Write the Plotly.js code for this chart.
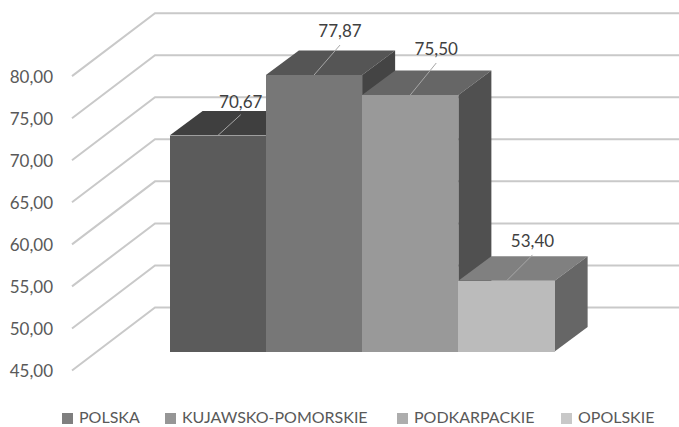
<!DOCTYPE html>
<html><head><meta charset="utf-8">
<script src="https://cdn.plot.ly/plotly-3.0.1.min.js"></script>
<style>html,body{margin:0;padding:0;background:#fff}</style></head>
<body><div id="chart" style="width:679px;height:427px"></div>
<script>
// data
const categories = ["POLSKA","KUJAWSKO-POMORSKIE","PODKARPACKIE","OPOLSKIE"];
const values = [70.67,77.87,75.50,53.40];
const labels = ["70,67","77,87","75,50","53,40"];
const axisTicks = [45,50,55,60,65,70,75,80];
// styles
const frontColors = ["#5b5b5b","#777777","#999999","#bbbbbb"];
const topColors = ["#3f3f3f","#555555","#666666","#808080"];
const sideColors = ["#383838","#444444","#505050","#666666"];
const legendColors = ["#7f7f7f","#969696","#adadad","#c8c8c8"];
const legendTextX = [78,181,413,577];
const legendMarkX = [62,165,397,561];
const W=679,H=427,L=58;
const xUnit=96.25, x0=217.75, yUnit=8.41, y45=370.5;
const xr=[(L-x0)/xUnit,(W-x0)/xUnit];
const yr=[45-(H-y45)/yUnit,45+y45/yUnit];
// projection (axis-unit offsets)
const barLift=19/yUnit, depthX=33/xUnit, depthY=24.6/yUnit;
const wallX=83/xUnit, wallY=63/yUnit, frontAxisX=(72-x0)/xUnit;
const base=45+barLift;
const leaderDX=[23,26,26,26].map(d=>d/xUnit), leaderDY=[21,30,32,26].map(d=>d/yUnit);
const labelDY=[11,12,12,12].map(d=>d/yUnit);

const traces=[];
// walls/grid
const gx=[],gy=[];
axisTicks.forEach(t=>{gx.push(frontAxisX,frontAxisX+wallX,xr[1]+1,null);gy.push(t,t+wallY,t+wallY,null);});
traces.push({type:"scatter",mode:"lines",x:gx,y:gy,line:{color:"#c9c9c9",width:2},hoverinfo:"skip",showlegend:false,cliponaxis:true});
// depth faces, painted left to right
values.forEach((v,i)=>{
  const yt=v+barLift, l=i-.5, r=i+.5;
  traces.push({type:"scatter",mode:"lines",fill:"toself",fillcolor:topColors[i],line:{width:0,color:topColors[i]},
    x:[l,r,r+depthX,l+depthX,l],y:[yt,yt,yt+depthY,yt+depthY,yt],hoverinfo:"skip",showlegend:false});
  traces.push({type:"scatter",mode:"lines",fill:"toself",fillcolor:sideColors[i],line:{width:0,color:sideColors[i]},
    x:[r,r+depthX,r+depthX,r,r],y:[yt,yt+depthY,base+depthY,base,yt],hoverinfo:"skip",showlegend:false});
});
// leader lines + labels
values.forEach((v,i)=>{
  traces.push({type:"scatter",mode:"lines",x:[i,i+leaderDX[i]],y:[v+barLift,v+barLift+leaderDY[i]],
    line:{color:"#a6a6a6",width:1},hoverinfo:"skip",showlegend:false});
});
traces.push({type:"scatter",mode:"text",x:values.map((v,i)=>i+leaderDX[i]),
  y:values.map((v,i)=>v+barLift+leaderDY[i]+labelDY[i]),text:labels,textposition:"middle center",
  textfont:{family:"Lato",size:17,color:"#404040"},hoverinfo:"skip",showlegend:false});
// front faces
traces.push({type:"bar",x:[0,1,2,3],y:values.map(v=>v-45),base:base,width:1,xaxis:"x2",yaxis:"y2",
  marker:{color:frontColors,line:{width:0}},text:categories,textposition:"none",hoverinfo:"text",showlegend:false});

const px=x=>(x-L)/(W-L), py=y=>1-y/H;
const shapes=legendMarkX.map((x,i)=>({type:"rect",xref:"paper",yref:"paper",x0:px(x),x1:px(x+11),y0:py(424),y1:py(413),
  fillcolor:legendColors[i],line:{width:0}}));
const annotations=categories.map((c,i)=>({xref:"paper",yref:"paper",x:px(legendTextX[i]),y:py(416.5),xanchor:"left",yanchor:"middle",
  text:c,showarrow:false,font:{family:"Lato",size:16,color:"#595959"},borderpad:0}));

const layout={width:W,height:H,margin:{l:L,r:0,t:0,b:0},paper_bgcolor:"#fff",plot_bgcolor:"#fff",showlegend:false,
  separators:", ",bargap:0,shapes,annotations,
  xaxis:{range:xr,visible:false,fixedrange:true},
  yaxis:{range:yr,tickmode:"array",tickvals:axisTicks,tickformat:".2f",showgrid:false,zeroline:false,showline:false,ticks:"",
    ticklabelstandoff:4,ticklabelshift:1,
    tickfont:{family:"Lato",size:17,color:"#595959"},fixedrange:true},
  xaxis2:{range:xr,visible:false,overlaying:"x",fixedrange:true},
  yaxis2:{range:yr,visible:false,overlaying:"y",fixedrange:true}};
Plotly.newPlot("chart",traces,layout,{staticPlot:true,displayModeBar:false});
</script></body></html>
